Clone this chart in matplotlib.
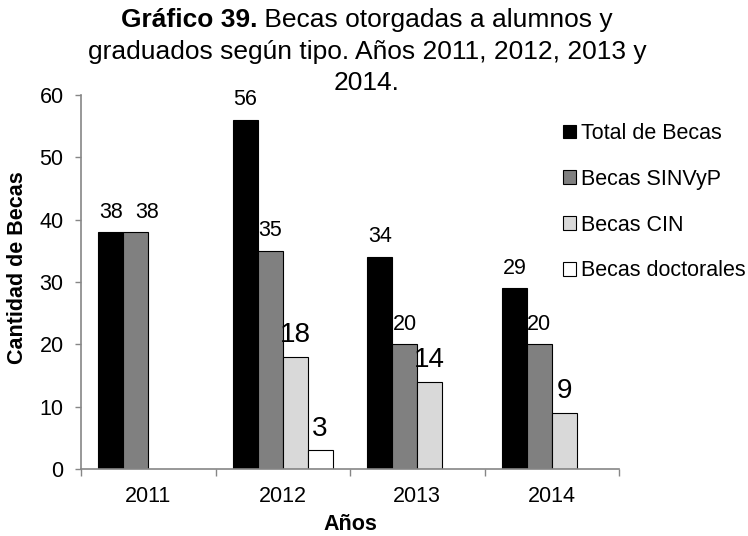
import numpy as np
import matplotlib.pyplot as plt

plt.rcParams['font.family'] = ['Liberation Sans', 'DejaVu Sans']

anios = ['2011', '2012', '2013', '2014']
series = ['Total de Becas', 'Becas SINVyP', 'Becas CIN', 'Becas doctorales']
total = [38, 56, 34, 29]
sinvyp = [38, 35, 20, 20]
cin = [np.nan, 18, 14, 9]
doctorales = [np.nan, 3, np.nan, np.nan]
valores = [total, sinvyp, cin, doctorales]
colores = ['#000000', '#808080', '#d9d9d9', '#ffffff']
tam_etiqueta = [15.5, 15.5, 20, 20]

W, H = 748, 536
fig = plt.figure(figsize=(W / 100, H / 100), dpi=100)
ax = fig.add_axes([81 / W, 1 - 469 / H, (619 - 81) / W, (469 - 95) / H])

x = np.arange(len(anios))
ancho = 0.185
for i, (nombre, vals) in enumerate(zip(series, valores)):
    pos = x - 1.5 * ancho + i * ancho
    ax.bar(pos, vals, ancho, color=colores[i], edgecolor='black',
           linewidth=0.8, label=nombre)
    for j, (px, v) in enumerate(zip(pos, vals)):
        if np.isnan(v):
            continue
        # separar la etiqueta cuando coincide con la barra vecina
        dx = 8 if i > 0 and valores[i - 1][j] == v else 0
        ax.annotate(str(int(v)), (px, v), xytext=(dx, 10.5),
                    textcoords='offset points', ha='center', va='baseline',
                    fontsize=tam_etiqueta[i])

ax.set_xlim(-0.5, len(anios) - 0.5)
ax.set_ylim(0, 60)
ax.set_yticks(range(0, 61, 10))
ax.tick_params(axis='y', labelsize=15.5, length=4.5, color='#868686',
               width=1, pad=8)
ax.set_xticks(x)
ax.set_xticklabels(anios, fontsize=15.5)
ax.tick_params(axis='x', length=0, pad=12)
ax.set_xticks(np.arange(-0.5, len(anios)), minor=True)
ax.tick_params(axis='x', which='minor', length=5, color='#868686', width=1)
for lado in ['top', 'right']:
    ax.spines[lado].set_visible(False)
for lado in ['left', 'bottom']:
    ax.spines[lado].set_color('#868686')
    ax.spines[lado].set_linewidth(1.2)

ax.set_ylabel('Cantidad de Becas', fontsize=15.5, fontweight='bold')
ax.yaxis.set_label_coords(18 / W, 0.5, transform=fig.transFigure)
ax.yaxis.label.set_va('center')
ax.set_xlabel('Años', fontsize=15.5, fontweight='bold')
ax.xaxis.set_label_coords(350 / W, 1 - 530 / H, transform=fig.transFigure)
ax.xaxis.label.set_va('baseline')

leg = ax.legend(loc='upper left', bbox_to_anchor=(563 / W, 1 - 123 / H),
                bbox_transform=fig.transFigure, frameon=False,
                fontsize=15.5, handlelength=0.6, handleheight=0.6,
                handletextpad=0.25, labelspacing=1.15, borderaxespad=0,
                borderpad=0)

# titulo: primera linea con parte en negrita
cx = 367 / W
fig.canvas.draw()
r = fig.canvas.get_renderer()
t1 = fig.text(0, 1 - 20 / H, 'Gráfico 39.', fontsize=19, fontweight='bold',
              va='center', ha='left')
t2 = fig.text(0, 1 - 20 / H, ' Becas otorgadas a alumnos y', fontsize=19,
              va='center', ha='left')
w1 = t1.get_window_extent(r).width
w2 = t2.get_window_extent(r).width
x0 = cx * W - (w1 + w2) / 2
t1.set_x(x0 / W)
t2.set_x((x0 + w1) / W)
fig.text(cx, 1 - 52 / H, 'graduados según tipo. Años 2011, 2012, 2013 y',
         fontsize=19, ha='center', va='center')
fig.text(cx, 1 - 83 / H, '2014.', fontsize=19, ha='center', va='center')

fig.savefig('out.png', dpi=100)
